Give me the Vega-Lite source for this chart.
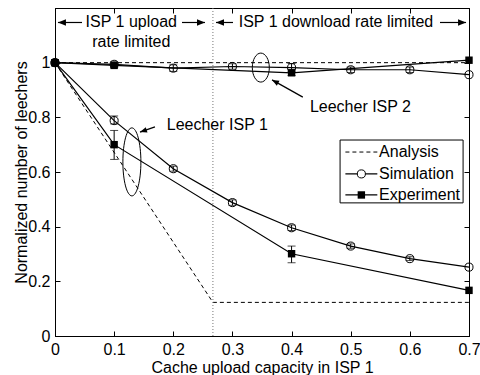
{
  "$schema": "https://vega.github.io/schema/vega-lite/v6.json",
  "width": 414,
  "height": 328,
  "autosize": {"type": "none"},
  "padding": {"left": 55, "top": 8, "right": 11, "bottom": 39},
  "background": "white",
  "config": {
    "view": {"stroke": "black", "strokeWidth": 1},
    "font": "Liberation Sans",
    "axis": {
      "domainColor": "black", "tickColor": "black", "labelColor": "black", "titleColor": "black",
      "grid": false, "titleFontWeight": "normal", "labelFont": "Liberation Sans", "titleFont": "Liberation Sans",
      "labelFontSize": 16, "titleFontSize": 16, "domainWidth": 1, "tickWidth": 1, "labelFlush": false
    }
  },
  "resolve": {"axis": {"x": "independent", "y": "independent"}},
  "datasets": {
    "analysis": [
      {"isp": "ISP 1", "x": 0, "y": 1}, {"isp": "ISP 1", "x": 0.267, "y": 0.123}, {"isp": "ISP 1", "x": 0.7, "y": 0.123},
      {"isp": "ISP 2", "x": 0, "y": 1}, {"isp": "ISP 2", "x": 0.7, "y": 1}
    ],
    "lines": [
      {"series": "Sim ISP1", "type": "Simulation", "x": 0, "y": 1},
      {"series": "Sim ISP1", "type": "Simulation", "x": 0.1, "y": 0.788},
      {"series": "Sim ISP1", "type": "Simulation", "x": 0.2, "y": 0.612},
      {"series": "Sim ISP1", "type": "Simulation", "x": 0.3, "y": 0.488},
      {"series": "Sim ISP1", "type": "Simulation", "x": 0.4, "y": 0.396},
      {"series": "Sim ISP1", "type": "Simulation", "x": 0.5, "y": 0.329},
      {"series": "Sim ISP1", "type": "Simulation", "x": 0.6, "y": 0.283},
      {"series": "Sim ISP1", "type": "Simulation", "x": 0.7, "y": 0.252},
      {"series": "Exp ISP1", "type": "Experiment", "x": 0, "y": 1},
      {"series": "Exp ISP1", "type": "Experiment", "x": 0.1, "y": 0.70},
      {"series": "Exp ISP1", "type": "Experiment", "x": 0.4, "y": 0.301},
      {"series": "Exp ISP1", "type": "Experiment", "x": 0.7, "y": 0.167},
      {"series": "Sim ISP2", "type": "Simulation", "x": 0, "y": 1},
      {"series": "Sim ISP2", "type": "Simulation", "x": 0.1, "y": 0.994},
      {"series": "Sim ISP2", "type": "Simulation", "x": 0.2, "y": 0.98},
      {"series": "Sim ISP2", "type": "Simulation", "x": 0.3, "y": 0.986},
      {"series": "Sim ISP2", "type": "Simulation", "x": 0.4, "y": 0.982},
      {"series": "Sim ISP2", "type": "Simulation", "x": 0.5, "y": 0.974},
      {"series": "Sim ISP2", "type": "Simulation", "x": 0.6, "y": 0.974},
      {"series": "Sim ISP2", "type": "Simulation", "x": 0.7, "y": 0.956},
      {"series": "Exp ISP2", "type": "Experiment", "x": 0, "y": 1},
      {"series": "Exp ISP2", "type": "Experiment", "x": 0.1, "y": 0.99},
      {"series": "Exp ISP2", "type": "Experiment", "x": 0.4, "y": 0.963},
      {"series": "Exp ISP2", "type": "Experiment", "x": 0.7, "y": 1.009}
    ],
    "err": [
      {"x": 0.1, "y": 0.776, "y2": 0.805}, {"x": 0.2, "y": 0.603, "y2": 0.621}, {"x": 0.3, "y": 0.478, "y2": 0.498},
      {"x": 0.4, "y": 0.386, "y2": 0.406}, {"x": 0.5, "y": 0.321, "y2": 0.337}, {"x": 0.6, "y": 0.276, "y2": 0.29},
      {"x": 0.1, "y": 0.646, "y2": 0.752}, {"x": 0.4, "y": 0.268, "y2": 0.329},
      {"x": 0.1, "y": 0.985, "y2": 1.003}, {"x": 0.2, "y": 0.968, "y2": 0.992}, {"x": 0.3, "y": 0.976, "y2": 0.996},
      {"x": 0.4, "y": 0.967, "y2": 0.997}, {"x": 0.5, "y": 0.964, "y2": 0.984}, {"x": 0.6, "y": 0.964, "y2": 0.984},
      {"x": 0.1, "y": 0.982, "y2": 0.998}, {"x": 0.4, "y": 0.953, "y2": 0.973}
    ],
    "vline": [{"x": 0.267, "y": 0, "y2": 1.2}],
    "headtext": [
      {"x": 0.129, "y": 1.147, "text": "ISP 1 upload"},
      {"x": 0.129, "y": 1.076, "text": "rate limited"},
      {"x": 0.475, "y": 1.147, "text": "ISP 1 download rate limited"}
    ],
    "labels": [
      {"x": 0.189, "y": 0.772, "text": "Leecher ISP 1"},
      {"x": 0.431, "y": 0.838, "text": "Leecher ISP 2"}
    ],
    "shafts": [
      {"x": 0.005, "x2": 0.0457, "y": 1.147, "y2": 1.147},
      {"x": 0.2147, "x2": 0.2536, "y": 1.147, "y2": 1.147},
      {"x": 0.2722, "x2": 0.301, "y": 1.147, "y2": 1.147},
      {"x": 0.651, "x2": 0.695, "y": 1.147, "y2": 1.147},
      {"x": 0.169, "x2": 0.1437, "y": 0.765, "y2": 0.746},
      {"x": 0.419, "x2": 0.367, "y": 0.874, "y2": 0.937}
    ],
    "headsLeft": [{"x": 0.005, "y": 1.147}, {"x": 0.2722, "y": 1.147}],
    "headsRight": [{"x": 0.2536, "y": 1.147}, {"x": 0.695, "y": 1.147}],
    "head1": [{"x": 0.1437, "y": 0.746}],
    "head2": [{"x": 0.367, "y": 0.937}],
    "ell1": [{"x": 0.130, "y": 0.637}],
    "ell2": [{"x": 0.348, "y": 0.982}],
    "legbox": [{"x": 0.482, "x2": 0.690, "y": 0.487, "y2": 0.717}],
    "legline": [
      {"type": "Analysis", "x": 0.491, "x2": 0.545, "y": 0.673},
      {"type": "Simulation", "x": 0.491, "x2": 0.545, "y": 0.593},
      {"type": "Experiment", "x": 0.491, "x2": 0.545, "y": 0.516}
    ],
    "legmark": [
      {"type": "Simulation", "x": 0.518, "y": 0.593},
      {"type": "Experiment", "x": 0.518, "y": 0.516}
    ],
    "legtext": [
      {"text": "Analysis", "x": 0.548, "y": 0.673},
      {"text": "Simulation", "x": 0.548, "y": 0.593},
      {"text": "Experiment", "x": 0.548, "y": 0.516}
    ]
  },
  "layer": [
    {
      "data": {"name": "analysis"},
      "mark": {"type": "line", "color": "black", "strokeWidth": 1, "strokeDash": [4, 3]},
      "encoding": {
        "x": {"field": "x", "type": "quantitative", "scale": {"domain": [0, 0.7], "nice": false},
          "axis": {"orient": "bottom", "values": [0, 0.1, 0.2, 0.3, 0.4, 0.5, 0.6, 0.7], "format": "~g",
            "title": "Cache upload capacity in ISP 1", "tickSize": -5, "labelPadding": 10, "titlePadding": 2}},
        "y": {"field": "y", "type": "quantitative", "scale": {"domain": [0, 1.2], "nice": false},
          "axis": {"orient": "left", "values": [0, 0.2, 0.4, 0.6, 0.8, 1], "format": "~g",
            "title": "Normalized number of leechers", "tickSize": -5, "labelPadding": 10, "titlePadding": -2}},
        "detail": {"field": "isp"}
      }
    },
    {
      "data": {"name": "vline"},
      "mark": {"type": "rule", "color": "#777777", "strokeWidth": 1, "strokeDash": [1, 2]},
      "encoding": {
        "x": {"field": "x", "type": "quantitative", "scale": {"domain": [0, 0.7], "nice": false},
          "axis": {"orient": "top", "values": [0, 0.1, 0.2, 0.3, 0.4, 0.5, 0.6, 0.7], "labels": false, "title": null, "tickSize": -5}},
        "y": {"field": "y", "type": "quantitative", "scale": {"domain": [0, 1.2], "nice": false},
          "axis": {"orient": "right", "values": [0, 0.2, 0.4, 0.6, 0.8, 1], "labels": false, "title": null, "tickSize": -5}},
        "y2": {"field": "y2"}
      }
    },
    {
      "data": {"name": "lines"},
      "mark": {"type": "line", "color": "black", "strokeWidth": 1.2},
      "encoding": {
        "x": {"field": "x", "type": "quantitative", "axis": null},
        "y": {"field": "y", "type": "quantitative", "axis": null},
        "detail": {"field": "series"}
      }
    },
    {
      "data": {"name": "err"},
      "mark": {"type": "rule", "color": "black", "strokeWidth": 1},
      "encoding": {
        "x": {"field": "x", "type": "quantitative", "axis": null},
        "y": {"field": "y", "type": "quantitative", "axis": null},
        "y2": {"field": "y2"}
      }
    },
    {
      "data": {"name": "err"},
      "mark": {"type": "tick", "orient": "horizontal", "color": "black", "size": 8, "thickness": 1},
      "encoding": {
        "x": {"field": "x", "type": "quantitative", "axis": null},
        "y": {"field": "y", "type": "quantitative", "axis": null}
      }
    },
    {
      "data": {"name": "err"},
      "mark": {"type": "tick", "orient": "horizontal", "color": "black", "size": 8, "thickness": 1},
      "encoding": {
        "x": {"field": "x", "type": "quantitative", "axis": null},
        "y": {"field": "y2", "type": "quantitative", "axis": null}
      }
    },
    {
      "data": {"name": "lines"},
      "transform": [{"filter": "datum.type === 'Simulation'"}],
      "mark": {"type": "point", "shape": "circle", "filled": false, "stroke": "black", "strokeWidth": 1, "size": 65, "opacity": 1},
      "encoding": {
        "x": {"field": "x", "type": "quantitative", "axis": null},
        "y": {"field": "y", "type": "quantitative", "axis": null}
      }
    },
    {
      "data": {"name": "lines"},
      "transform": [{"filter": "datum.type === 'Experiment'"}],
      "mark": {"type": "point", "shape": "square", "filled": true, "fill": "black", "size": 55, "opacity": 1},
      "encoding": {
        "x": {"field": "x", "type": "quantitative", "axis": null},
        "y": {"field": "y", "type": "quantitative", "axis": null}
      }
    },
    {
      "data": {"name": "headtext"},
      "mark": {"type": "text", "align": "center", "baseline": "middle", "fontSize": 16, "color": "black", "font": "Liberation Sans"},
      "encoding": {
        "x": {"field": "x", "type": "quantitative", "axis": null},
        "y": {"field": "y", "type": "quantitative", "axis": null},
        "text": {"field": "text"}
      }
    },
    {
      "data": {"name": "labels"},
      "mark": {"type": "text", "align": "left", "baseline": "middle", "fontSize": 16, "color": "black", "font": "Liberation Sans"},
      "encoding": {
        "x": {"field": "x", "type": "quantitative", "axis": null},
        "y": {"field": "y", "type": "quantitative", "axis": null},
        "text": {"field": "text"}
      }
    },
    {
      "data": {"name": "shafts"},
      "mark": {"type": "rule", "color": "black", "strokeWidth": 1.2},
      "encoding": {
        "x": {"field": "x", "type": "quantitative", "axis": null},
        "y": {"field": "y", "type": "quantitative", "axis": null},
        "x2": {"field": "x2"},
        "y2": {"field": "y2"}
      }
    },
    {
      "data": {"name": "headsLeft"},
      "mark": {"type": "point", "shape": "M0,0L0.4,1L-0.4,1Z", "filled": true, "fill": "black", "size": 256, "angle": 270, "opacity": 1},
      "encoding": {
        "x": {"field": "x", "type": "quantitative", "axis": null},
        "y": {"field": "y", "type": "quantitative", "axis": null}
      }
    },
    {
      "data": {"name": "headsRight"},
      "mark": {"type": "point", "shape": "M0,0L0.4,1L-0.4,1Z", "filled": true, "fill": "black", "size": 256, "angle": 90, "opacity": 1},
      "encoding": {
        "x": {"field": "x", "type": "quantitative", "axis": null},
        "y": {"field": "y", "type": "quantitative", "axis": null}
      }
    },
    {
      "data": {"name": "head1"},
      "mark": {"type": "point", "shape": "M0,0L0.4,1L-0.4,1Z", "filled": true, "fill": "black", "size": 196, "angle": 252, "opacity": 1},
      "encoding": {
        "x": {"field": "x", "type": "quantitative", "axis": null},
        "y": {"field": "y", "type": "quantitative", "axis": null}
      }
    },
    {
      "data": {"name": "head2"},
      "mark": {"type": "point", "shape": "M0,0L0.4,1L-0.4,1Z", "filled": true, "fill": "black", "size": 196, "angle": 299, "opacity": 1},
      "encoding": {
        "x": {"field": "x", "type": "quantitative", "axis": null},
        "y": {"field": "y", "type": "quantitative", "axis": null}
      }
    },
    {
      "data": {"name": "ell1"},
      "mark": {"type": "point", "shape": "M0,-1A0.265,1,0,1,1,0,1A0.265,1,0,1,1,0,-1Z", "filled": false, "stroke": "black", "strokeWidth": 1, "size": 4624, "opacity": 1},
      "encoding": {
        "x": {"field": "x", "type": "quantitative", "axis": null},
        "y": {"field": "y", "type": "quantitative", "axis": null}
      }
    },
    {
      "data": {"name": "ell2"},
      "mark": {"type": "point", "shape": "M0,-1A0.586,1,0,1,1,0,1A0.586,1,0,1,1,0,-1Z", "filled": false, "stroke": "black", "strokeWidth": 1, "size": 841, "opacity": 1},
      "encoding": {
        "x": {"field": "x", "type": "quantitative", "axis": null},
        "y": {"field": "y", "type": "quantitative", "axis": null}
      }
    },
    {
      "data": {"name": "legbox"},
      "mark": {"type": "rect", "fill": "white", "stroke": "black", "strokeWidth": 1},
      "encoding": {
        "x": {"field": "x", "type": "quantitative", "axis": null},
        "x2": {"field": "x2"},
        "y": {"field": "y", "type": "quantitative", "axis": null},
        "y2": {"field": "y2"}
      }
    },
    {
      "data": {"name": "legline"},
      "transform": [{"filter": "datum.type === 'Analysis'"}],
      "mark": {"type": "rule", "color": "black", "strokeWidth": 1, "strokeDash": [4, 3]},
      "encoding": {
        "x": {"field": "x", "type": "quantitative", "axis": null},
        "x2": {"field": "x2"},
        "y": {"field": "y", "type": "quantitative", "axis": null}
      }
    },
    {
      "data": {"name": "legline"},
      "transform": [{"filter": "datum.type !== 'Analysis'"}],
      "mark": {"type": "rule", "color": "black", "strokeWidth": 1.2},
      "encoding": {
        "x": {"field": "x", "type": "quantitative", "axis": null},
        "x2": {"field": "x2"},
        "y": {"field": "y", "type": "quantitative", "axis": null}
      }
    },
    {
      "data": {"name": "legmark"},
      "transform": [{"filter": "datum.type === 'Simulation'"}],
      "mark": {"type": "point", "shape": "circle", "filled": true, "fill": "white", "stroke": "black", "strokeWidth": 1, "size": 65, "opacity": 1},
      "encoding": {
        "x": {"field": "x", "type": "quantitative", "axis": null},
        "y": {"field": "y", "type": "quantitative", "axis": null}
      }
    },
    {
      "data": {"name": "legmark"},
      "transform": [{"filter": "datum.type === 'Experiment'"}],
      "mark": {"type": "point", "shape": "square", "filled": true, "fill": "black", "size": 55, "opacity": 1},
      "encoding": {
        "x": {"field": "x", "type": "quantitative", "axis": null},
        "y": {"field": "y", "type": "quantitative", "axis": null}
      }
    },
    {
      "data": {"name": "legtext"},
      "mark": {"type": "text", "align": "left", "baseline": "middle", "fontSize": 16, "color": "black", "font": "Liberation Sans"},
      "encoding": {
        "x": {"field": "x", "type": "quantitative", "axis": null},
        "y": {"field": "y", "type": "quantitative", "axis": null},
        "text": {"field": "text"}
      }
    }
  ]
}
